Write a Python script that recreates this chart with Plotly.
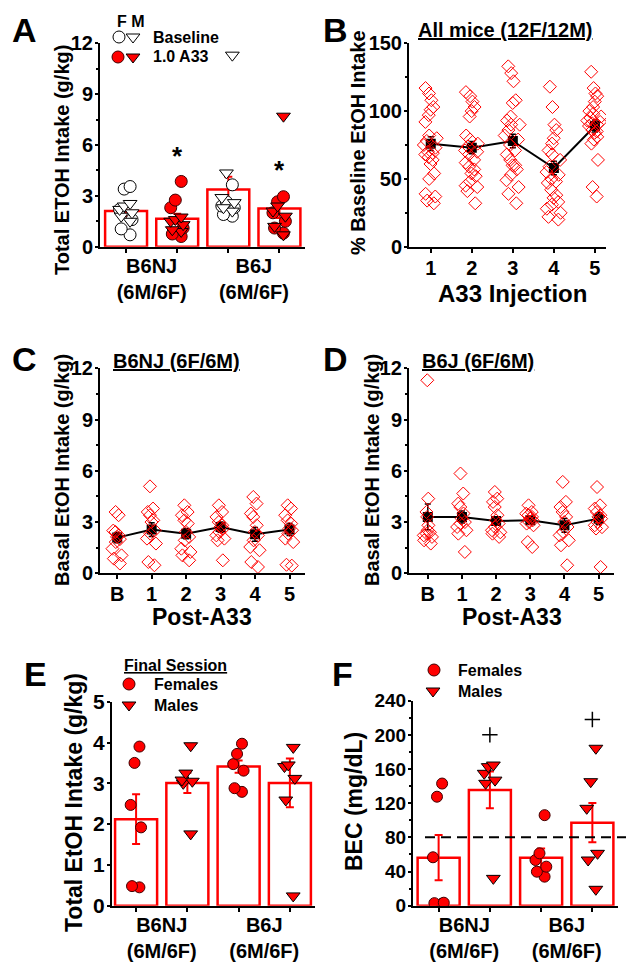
import plotly.graph_objects as go

W, H = 632, 965
FONT = "Liberation Sans, Arial, Helvetica, sans-serif"
RED = "#ff0000"

# ---------------- data ----------------
# Panel A: total EtOH intake (g/kg), baseline vs 1.0 A33
a_groups = ["B6NJ<br>(6M/6F)", "B6J<br>(6M/6F)"]
a_bar_means = [2.10, 1.65, 3.37, 2.25]
a_bar_sem = [0.30, 0.30, 0.75, 0.55]
a_nj_base_f = [3.55, 3.40, 2.20, 1.60, 1.05, 0.70]
a_nj_base_m = [2.55, 2.40, 2.20, 2.00, 1.80, 1.50]
a_nj_a33_f = [3.85, 2.75, 2.30, 1.10, 0.75, 0.60]
a_nj_a33_m = [1.75, 1.60, 1.50, 1.30, 1.00, 0.90]
a_j_base_f = [3.65, 2.65, 2.40, 2.30, 1.90, 1.80]
a_j_base_m = [11.3, 4.35, 2.90, 2.60, 2.30, 2.10]
a_j_a33_f = [2.95, 2.65, 2.00, 1.50, 1.10, 0.80]
a_j_a33_m = [7.70, 2.40, 2.10, 1.80, 1.20, 0.70]
a_sig_x = [1, 3]
a_sig_y = [5.7, 4.9]

# Panel B: % baseline EtOH intake per A33 injection (all mice)
b_inj = [1, 2, 3, 4, 5]
b_inj1 = [117, 113, 108, 103, 101, 97, 92, 82, 80, 78, 75, 73, 70, 69, 68, 66, 64, 61, 54, 50, 39, 37, 34, 32]
b_inj2 = [114, 111, 107, 103, 100, 96, 82, 79, 76, 74, 71, 70, 68, 64, 62, 59, 57, 54, 52, 48, 45, 44, 41, 32]
b_inj3 = [133, 128, 122, 108, 106, 96, 93, 90, 90, 86, 82, 79, 75, 71, 68, 64, 60, 60, 57, 53, 49, 44, 39, 32]
b_inj4 = [118, 103, 90, 86, 80, 76, 71, 68, 64, 59, 55, 53, 50, 48, 47, 42, 38, 36, 33, 31, 28, 25, 22, 20]
b_inj5 = [129, 117, 113, 111, 107, 103, 100, 98, 96, 95, 93, 92, 91, 90, 89, 86, 85, 84, 81, 79, 76, 64, 44, 37]
b_means = [76, 73, 78, 58, 89]
b_sem = [5, 4.5, 5, 5, 4.5]

# Panels C/D: basal EtOH intake (g/kg) baseline and after A33
cd_sessions = [0, 1, 2, 3, 4, 5]
cd_labels = ["B", "1", "2", "3", "4", "5"]
c_B = [3.59, 3.40, 2.50, 2.42, 2.22, 2.13, 2.00, 1.83, 1.44, 1.05, 0.86, 0.57]
c_1 = [5.09, 3.79, 3.59, 3.40, 3.10, 3.00, 2.52, 2.32, 2.03, 1.74, 0.66, 0.47]
c_2 = [3.98, 3.59, 3.40, 3.10, 2.91, 2.42, 2.13, 1.93, 1.44, 1.25, 1.05, 0.76]
c_3 = [3.98, 3.59, 3.30, 3.00, 2.81, 2.70, 2.62, 2.42, 2.22, 2.03, 1.93, 0.76]
c_4 = [4.47, 4.08, 3.50, 3.30, 2.81, 2.42, 2.22, 1.93, 1.54, 1.35, 0.66, 0.37]
c_5 = [3.98, 3.79, 3.40, 3.10, 2.91, 2.62, 2.52, 2.32, 2.03, 1.83, 0.50, 0.45]
c_means = [2.09, 2.56, 2.32, 2.71, 2.28, 2.56]
c_sem = [0.30, 0.40, 0.30, 0.30, 0.40, 0.35]
d_B = [11.3, 4.37, 3.59, 3.30, 2.81, 2.52, 2.40, 2.32, 2.22, 2.13, 1.93, 1.74]
d_1 = [5.84, 4.67, 4.08, 3.88, 3.50, 3.20, 3.00, 2.91, 2.71, 2.52, 2.32, 1.25]
d_2 = [4.76, 4.37, 4.18, 3.88, 3.40, 3.10, 2.91, 2.71, 2.52, 2.40, 2.32, 2.13]
d_3 = [3.98, 3.59, 3.49, 3.40, 3.30, 3.20, 3.10, 3.00, 2.91, 2.81, 1.83, 1.54]
d_4 = [5.35, 4.18, 3.88, 3.59, 3.30, 3.00, 2.71, 2.42, 2.22, 1.93, 1.64, 0.47]
d_5 = [5.05, 3.98, 3.79, 3.59, 3.40, 3.30, 3.20, 3.00, 2.81, 2.70, 2.62, 0.37]
d_means = [3.30, 3.30, 3.06, 3.10, 2.81, 3.20]
d_sem = [0.75, 0.35, 0.25, 0.20, 0.40, 0.35]

# Panel E: final session total EtOH intake (g/kg)
e_groups = ["B6NJ<br>(6M/6F)", "B6J<br>(6M/6F)"]
e_bar_means = [2.12, 3.01, 3.41, 3.01]
e_bar_sem = [0.61, 0.25, 0.15, 0.60]
e_nj_f = [3.90, 3.50, 2.47, 1.92, 0.48, 0.45]
e_nj_m = [3.92, 3.25, 3.08, 3.05, 3.00, 1.76]
e_j_f = [3.97, 3.72, 3.47, 3.31, 2.88, 2.79]
e_j_m = [3.88, 3.45, 3.41, 3.12, 2.59, 0.24]

# Panel F: BEC (mg/dL)
f_groups = ["B6NJ<br>(6M/6F)", "B6J<br>(6M/6F)"]
f_bar_means = [56.2, 135.5, 56.0, 97.2]
f_bar_sem = [26.5, 21.5, 11.0, 23.0]
f_nj_f = [143.0, 127.6, 56.7, 3.5, 3.0, 2.5]
f_nj_m = [164.7, 162.8, 155.0, 147.0, 143.3, 32.0]
f_j_f = [106.0, 61.3, 53.5, 45.7, 39.8, 34.0]
f_j_m = [184.3, 145.2, 114.0, 61.3, 53.5, 19.2]
f_plus_x = [1, 3]
f_plus_y = [200, 218]
f_threshold = 80

# ---------------- helpers ----------------
def px_dom_x(x0, x1):
    return [x0 / W, x1 / W]

def px_dom_y(top, bottom):
    return [1 - bottom / H, 1 - top / H]

def tfont(size):
    return dict(family=FONT, size=size, color="black", weight="bold")

def ax(**kw):
    d = dict(showline=True, linecolor="black", linewidth=2, ticks="outside", ticklen=4,
             tickwidth=2, tickcolor="black", showgrid=False, zeroline=False,
             tickfont=tfont(20), fixedrange=True, automargin=False)
    d.update(kw)
    return d

def yax(**kw):
    d = dict(ticklen=3, ticklabelstandoff=-2)
    d.update(kw)
    return ax(**d)

def yminor(dt):
    return dict(tick0=0, dtick=dt, ticks="outside", ticklen=2, tickwidth=1.5,
                tickcolor="black", showgrid=False)

def hidden_overlay(base, rng):
    return dict(overlaying=base, range=rng, visible=False, fixedrange=True, automargin=False)

def pts(xpos, vals, xa, ya, symbol, size, fill, edge, width, jitter=1.0):
    return go.Box(x=[xpos] * len(vals), y=vals, xaxis=xa, yaxis=ya, boxpoints="all",
                  jitter=jitter, pointpos=0, width=width,
                  fillcolor="rgba(0,0,0,0)", line=dict(color="rgba(0,0,0,0)", width=0),
                  marker=dict(symbol=symbol, size=size, color=fill,
                              line=dict(color=edge, width=1)),
                  showlegend=False, hoveron="points")

def bars(means, sem, xa, ya, width=0.82):
    return go.Bar(x=list(range(len(means))), y=means, xaxis=xa, yaxis=ya, width=width,
                  marker=dict(color="white", line=dict(color=RED, width=2.5)),
                  error_y=dict(type="data", array=sem, color=RED, thickness=2, width=4),
                  showlegend=False)

def mean_line(xs, means, sem, xa, ya):
    return go.Scatter(x=xs, y=means, xaxis=xa, yaxis=ya, mode="lines+markers",
                      line=dict(color="black", width=2),
                      marker=dict(symbol="square", size=10, color="black"),
                      error_y=dict(type="data", array=sem, color="black", thickness=1.5, width=3),
                      showlegend=False)

def txt(s, px, py, size, xanchor="center", yanchor="middle", angle=0):
    return dict(text=s, x=px / W, y=1 - py / H, xref="paper", yref="paper",
                xanchor=xanchor, yanchor=yanchor, showarrow=False, textangle=angle,
                font=tfont(size))

fig = go.Figure()

# ---- Panel A ----
fig.add_trace(bars(a_bar_means, a_bar_sem, "x", "y"))
open_c = dict(symbol="circle", fill="white", edge="black")
open_t = dict(symbol="triangle-down", fill="white", edge="black")
red_c = dict(symbol="circle", fill=RED, edge="#400000")
red_t = dict(symbol="triangle-down", fill=RED, edge="black")
for xpos, vals, st in [(0, a_nj_base_f, open_c), (0, a_nj_base_m, open_t),
                       (1, a_nj_a33_f, red_c), (1, a_nj_a33_m, red_t),
                       (2, a_j_base_f, open_c), (2, a_j_base_m, open_t),
                       (3, a_j_a33_f, red_c), (3, a_j_a33_m, red_t)]:
    fig.add_trace(pts(xpos, vals, "x", "y", st["symbol"], 12, st["fill"], st["edge"], 0.3))

# ---- Panel B (means below, individual diamonds on an overlaid axis pair) ----
fig.add_trace(mean_line(b_inj, b_means, b_sem, "x2", "y2"))
for xpos, vals in zip(b_inj, [b_inj1, b_inj2, b_inj3, b_inj4, b_inj5]):
    fig.add_trace(pts(xpos, vals, "x8", "y8", "diamond-open", 10, RED, RED, 0.42))

# ---- Panels C & D ----
for xa, ya, oxa, oya, cols, means, sem in [
        ("x3", "y3", "x9", "y9", [c_B, c_1, c_2, c_3, c_4, c_5], c_means, c_sem),
        ("x4", "y4", "x10", "y10", [d_B, d_1, d_2, d_3, d_4, d_5], d_means, d_sem)]:
    fig.add_trace(mean_line(cd_sessions, means, sem, xa, ya))
    for xpos, vals in zip(cd_sessions, cols):
        fig.add_trace(pts(xpos, vals, oxa, oya, "diamond-open", 10, RED, RED, 0.34))

# ---- Panel E ----
fig.add_trace(bars(e_bar_means, e_bar_sem, "x5", "y5"))
for xpos, vals, st in [(0, e_nj_f, red_c), (1, e_nj_m, red_t), (2, e_j_f, red_c), (3, e_j_m, red_t)]:
    fig.add_trace(pts(xpos, vals, "x5", "y5", st["symbol"], 11 if st is red_c else 12,
                      st["fill"], st["edge"], 0.25))

# ---- Panel F ----
fig.add_trace(bars(f_bar_means, f_bar_sem, "x6", "y6"))
for xpos, vals, st in [(0, f_nj_f, red_c), (1, f_nj_m, red_t), (2, f_j_f, red_c), (3, f_j_m, red_t)]:
    fig.add_trace(pts(xpos, vals, "x6", "y6", st["symbol"], 11 if st is red_c else 12,
                      st["fill"], st["edge"], 0.26))
fig.add_trace(go.Scatter(x=f_plus_x, y=f_plus_y, xaxis="x6", yaxis="y6", mode="markers",
                         marker=dict(symbol="cross-thin-open", size=11, color="black",
                                     line=dict(color="black", width=1.5)),
                         showlegend=False))

# ---- legend keys (overlay pixel axis) ----
legend_keys = [  # (px, py, style)
    (119, 37, open_c), (133, 37, open_t), (118, 57, red_c), (133, 57, red_t),
    (129, 684, red_c), (129, 705, red_t),
    (434, 670, red_c), (433, 691, red_t),
]
for kx, ky, st in legend_keys:
    fig.add_trace(go.Scatter(x=[kx], y=[ky], xaxis="x7", yaxis="y7", mode="markers",
                             marker=dict(symbol=st["symbol"], size=12, color=st["fill"],
                                         line=dict(color=st["edge"], width=1)),
                             showlegend=False, hoverinfo="skip"))

B_XR, B_YR = [0.47, 5.27], [0, 150]
C_XR, D_XR, CD_YR = [-0.5, 5.45], [-0.55, 5.45], [0, 12]

layout = dict(
    template="none",
    width=W, height=H, margin=dict(l=0, r=0, t=0, b=0, pad=0), autosize=False,
    paper_bgcolor="white", plot_bgcolor="rgba(0,0,0,0)",
    font=tfont(19), showlegend=False, boxmode="overlay",
    # A
    xaxis=ax(domain=px_dom_x(100, 305), anchor="y", range=[-0.51, 3.5],
             tickvals=[0.5, 2.5], ticktext=a_groups, ticks="", ticklabelstandoff=0,
             minor=dict(tickvals=[0, 1, 2, 3], ticks="outside", ticklen=4, tickwidth=2,
                        tickcolor="black")),
    yaxis=yax(domain=px_dom_y(43.3, 246.7), anchor="x", range=[0, 12], tickvals=[0, 3, 6, 9, 12],
              minor=yminor(1.5)),
    # B
    xaxis2=ax(domain=px_dom_x(409, 606), anchor="y2", range=B_XR, tickvals=b_inj,
              ticklabelstandoff=-2),
    yaxis2=yax(domain=px_dom_y(43.3, 246.7), anchor="x2", range=B_YR,
               tickvals=[0, 50, 100, 150], minor=yminor(25)),
    # C
    xaxis3=ax(domain=px_dom_x(100, 305), anchor="y3", range=C_XR,
              tickvals=cd_sessions, ticktext=cd_labels, ticklabelstandoff=-2),
    yaxis3=yax(domain=px_dom_y(368.3, 573.3), anchor="x3", range=CD_YR,
               tickvals=[0, 3, 6, 9, 12], minor=yminor(1.5)),
    # D
    xaxis4=ax(domain=px_dom_x(409, 614), anchor="y4", range=D_XR,
              tickvals=cd_sessions, ticktext=cd_labels, ticklabelstandoff=-2),
    yaxis4=yax(domain=px_dom_y(368.3, 573.3), anchor="x4", range=CD_YR,
               tickvals=[0, 3, 6, 9, 12], minor=yminor(1.5)),
    # E
    xaxis5=ax(domain=px_dom_x(112, 315), anchor="y5", range=[-0.47, 3.49],
              tickvals=[0.5, 2.5], ticktext=e_groups, ticks="", ticklabelstandoff=0,
              minor=dict(tickvals=[0, 1, 2, 3], ticks="outside", ticklen=4, tickwidth=2,
                         tickcolor="black")),
    yaxis5=yax(domain=px_dom_y(701.7, 905.7), anchor="x5", range=[0, 5],
               tickvals=[0, 1, 2, 3, 4, 5], tickfont=tfont(21)),
    # F
    xaxis6=ax(domain=px_dom_x(413, 618), anchor="y6", range=[-0.5, 3.5],
              tickvals=[0.5, 2.5], ticktext=f_groups, ticks="", ticklabelstandoff=0,
              minor=dict(tickvals=[0, 1, 2, 3], ticks="outside", ticklen=4, tickwidth=2,
                         tickcolor="black")),
    yaxis6=yax(domain=px_dom_y(700.7, 905.7), anchor="x6", range=[0, 240],
               tickvals=[0, 40, 80, 120, 160, 200, 240], tickfont=tfont(19), minor=yminor(20)),
    # overlay pixel axes for legend keys
    xaxis7=dict(domain=[0, 1], range=[0, W], visible=False, fixedrange=True, anchor="y7",
                automargin=False),
    yaxis7=dict(domain=[0, 1], range=[H, 0], visible=False, fixedrange=True, anchor="x7",
                automargin=False),
    # overlaid axes so that individual points sit on top of the mean markers
    xaxis8=hidden_overlay("x2", B_XR), yaxis8=hidden_overlay("y2", B_YR),
    xaxis9=hidden_overlay("x3", C_XR), yaxis9=hidden_overlay("y3", CD_YR),
    xaxis10=hidden_overlay("x4", D_XR), yaxis10=hidden_overlay("y4", CD_YR),
)
fig.update_layout(**layout)

ann = [
    # panel letters
    txt("A", 24, 30, 34), txt("B", 335, 30, 34), txt("C", 24, 359, 34),
    txt("D", 335, 359, 34), txt("E", 35, 674, 34), txt("F", 342, 674, 34),
    # y titles
    txt("Total ETOH Intake (g/kg)", 62, 160, 20, angle=-90),
    txt("% Baseline EtOH Intake", 358, 143, 20, angle=-90),
    txt("Basal EtOH Intake (g/kg)", 62, 470, 20, angle=-90),
    txt("Basal EtOH Intake (g/kg)", 372, 470, 20, angle=-90),
    txt("Total EtOH Intake (g/kg)", 74, 803, 23, angle=-90),
    txt("BEC (mg/dL)", 354, 802, 23, angle=-90),
    # x titles
    txt("A33 Injection", 512, 293, 24),
    txt("Post-A33", 202, 617, 23),
    txt("Post-A33", 512, 617, 23),
    # panel titles
    txt("<u>All mice (12F/12M)</u>", 505, 30, 20),
    txt("<u>B6NJ (6F/6M)</u>", 176, 361, 20),
    txt("<u>B6J (6F/6M)</u>", 478, 361, 20),
    # legends
    txt("F M", 131, 21, 16),
    txt("Baseline", 151, 37, 16, xanchor="left"),
    txt("1.0 A33", 151, 57, 16, xanchor="left"),
    txt("<u>Final Session</u>", 122, 665, 16, xanchor="left"),
    txt("Females", 152, 684, 16, xanchor="left"),
    txt("Males", 152, 705, 16, xanchor="left"),
    txt("Females", 456, 670, 16, xanchor="left"),
    txt("Males", 456, 691, 16, xanchor="left"),
]
for sx, sy in zip(a_sig_x, a_sig_y):
    ann.append(dict(text="*", x=sx, y=sy, xref="x", yref="y", showarrow=False,
                    yshift=-6, font=tfont(26)))
fig.update_layout(annotations=ann)

fig.add_shape(type="line", xref="paper", yref="y6", x0=425 / W, x1=626 / W,
              y0=f_threshold, y1=f_threshold, layer="above",
              line=dict(color="black", width=2, dash="10px,6px"))

fig.write_html("out.html", config={"displayModeBar": False},
               post_script="document.body.style.margin='0px';"
                           "document.body.style.overflow='hidden';")
